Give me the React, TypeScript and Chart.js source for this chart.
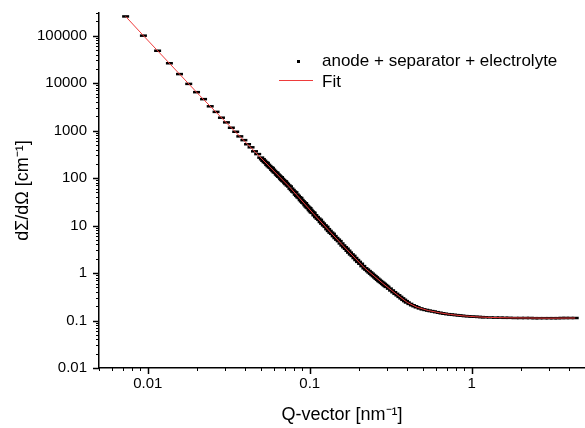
import React, { useEffect, useRef } from 'react';
import { Chart, registerables } from 'chart.js';

Chart.register(...registerables);

// Measured scattering data (Q in nm^-1, intensity in cm^-1)
const qData = [
  0.0073, 0.0094, 0.0115, 0.0136, 0.0157, 0.0179, 0.0200, 0.0221, 0.0243, 0.0264,
  0.0285, 0.0306, 0.0328, 0.0349, 0.0370, 0.0392, 0.0413, 0.0434, 0.0456, 0.0477,
  0.0498, 0.051, 0.052, 0.053, 0.054, 0.055, 0.056, 0.057, 0.058, 0.059,
  0.060, 0.061, 0.062, 0.063, 0.064, 0.065, 0.066, 0.067, 0.068, 0.069,
  0.070, 0.071, 0.072, 0.0735, 0.075, 0.0765, 0.078, 0.0795, 0.081, 0.0825,
  0.084, 0.0855, 0.087, 0.0885, 0.090, 0.0915, 0.093, 0.0945, 0.096, 0.0975,
  0.099, 0.1005, 0.102, 0.1035, 0.105, 0.1075, 0.110, 0.1125, 0.115, 0.1175,
  0.120, 0.123, 0.126, 0.129, 0.132, 0.135, 0.138, 0.1415, 0.145, 0.1485,
  0.152, 0.156, 0.160, 0.164, 0.168, 0.172, 0.176, 0.1805, 0.185, 0.190,
  0.195, 0.200, 0.206, 0.2125, 0.219, 0.2245, 0.23, 0.235, 0.24, 0.245,
  0.25, 0.255, 0.26, 0.265, 0.27, 0.275, 0.28, 0.285, 0.29, 0.295,
  0.30, 0.31, 0.32, 0.33, 0.34, 0.35, 0.36, 0.37, 0.38, 0.39,
  0.40, 0.415, 0.43, 0.445, 0.46, 0.48, 0.50, 0.52, 0.54, 0.56,
  0.58, 0.605, 0.63, 0.655, 0.68, 0.71, 0.74, 0.77, 0.80, 0.835,
  0.87, 0.91, 0.95, 1.0, 1.05, 1.1, 1.15, 1.2, 1.3, 1.4,
  1.5, 1.6, 1.7, 1.85, 2.0, 2.15, 2.3, 2.45, 2.6, 2.8,
  3.0, 3.2, 3.4, 3.6, 3.8, 4.05, 4.35,
];
const iData = [
  254000, 100000, 48100, 26200, 15500, 9640, 6450, 4600, 3250, 2480,
  1870, 1490, 1150, 945, 756, 630, 516, 445, 366, 320,
  270, 250, 232, 217, 208, 190, 179, 169, 163, 150,
  141, 133, 129, 119, 113, 107, 104, 96, 91.4, 87,
  85, 79, 74.9, 70, 66.5, 60, 56, 52, 50, 45,
  42.2, 39.5, 38, 34.5, 32.4, 30.5, 29.5, 27, 25.3, 24,
  23.2, 21.3, 20.1, 19, 18.5, 16.5, 15.1, 14.0, 13.2, 11.9,
  11.0, 10.1, 9.4, 8.4, 7.71, 7.1, 6.7, 6.0, 5.46, 5.05,
  4.7, 4.2, 3.81, 3.5, 3.25, 2.95, 2.70, 2.47, 2.30, 2.07,
  1.88, 1.72, 1.57, 1.40, 1.26, 1.18, 1.10, 1.03, 0.97, 0.91,
  0.86, 0.81, 0.76, 0.72, 0.68, 0.65, 0.62, 0.59, 0.56, 0.535,
  0.51, 0.47, 0.43, 0.395, 0.365, 0.34, 0.315, 0.293, 0.273, 0.256,
  0.240, 0.224, 0.210, 0.200, 0.190, 0.180, 0.172, 0.167, 0.162, 0.158,
  0.155, 0.150, 0.146, 0.142, 0.139, 0.136, 0.134, 0.132, 0.130, 0.128,
  0.126, 0.124, 0.123, 0.121, 0.120, 0.119, 0.118, 0.117, 0.116, 0.115,
  0.115, 0.114, 0.114, 0.113, 0.113, 0.113, 0.113, 0.112, 0.112, 0.112,
  0.112, 0.112, 0.112, 0.113, 0.113, 0.113, 0.113,
];

// Fit curve
const qFit = [
  0.0073, 0.0094, 0.0209, 0.0752, 0.105, 0.13, 0.16, 0.19, 0.219, 0.25,
  0.28, 0.32, 0.36, 0.40, 0.46, 0.54, 0.63, 0.74, 0.87, 1.05,
  1.3, 1.7, 2.3, 3.0, 4.35,
];
const iFit = [
  254000, 100000, 5500, 64.4, 18.0, 8.15, 3.81, 2.07, 1.26, 0.86,
  0.62, 0.43, 0.315, 0.240, 0.190, 0.162, 0.146, 0.134, 0.126, 0.120,
  0.116, 0.114, 0.113, 0.112, 0.113,
];

const xTickValues = [0.01, 0.1, 1];
const xTickLabels = ['0.01', '0.1', '1'];
const yTickValues = [0.01, 0.1, 1, 10, 100, 1000, 10000, 100000];
const yTickLabels = ['0.01', '0.1', '1', '10', '100', '1000', '10000', '100000'];
const seriesLabels = ['anode + separator + electrolyte', 'Fit'];
const xTitle = 'Q-vector [nm⁻¹]';
const yTitle = 'dΣ/dΩ [cm⁻¹]';
const xMin = 0.005;
const xMax = 5;
const yMin = 0.01;
const yMax = 300000;

const FONT = '"Liberation Sans", Arial, Helvetica, sans-serif';
const FIT_COLOR = '#ee3b3b';

const logTicksPlugin = {
  id: 'logTicks',
  afterDraw(chart: any) {
    const ctx = chart.ctx;
    const area = chart.chartArea;
    ctx.save();
    ctx.strokeStyle = '#000';
    const drawAxis = (scale: any, horizontal: boolean) => {
      const min = scale.min;
      const max = scale.max;
      const e0 = Math.floor(Math.log10(min));
      const e1 = Math.ceil(Math.log10(max));
      for (let e = e0; e <= e1; e++) {
        for (let m = 1; m <= 9; m++) {
          const v = m * Math.pow(10, e);
          if (v < min * 0.999 || v > max * 1.001) continue;
          const p = Math.round(scale.getPixelForValue(v)) + 0.5;
          const len = m === 1 ? 6 : 3;
          ctx.lineWidth = m === 1 ? 1.5 : 1;
          ctx.beginPath();
          if (horizontal) {
            ctx.moveTo(p, area.bottom);
            ctx.lineTo(p, area.bottom + len);
          } else {
            ctx.moveTo(area.left, p);
            ctx.lineTo(area.left - len, p);
          }
          ctx.stroke();
        }
      }
    };
    drawAxis(chart.scales.x, true);
    drawAxis(chart.scales.y, false);
    ctx.restore();
  },
};

export default function App() {
  const canvasRef = useRef<HTMLCanvasElement | null>(null);

  useEffect(() => {
    if (!canvasRef.current) return;
    const chart = new Chart(canvasRef.current, {
      type: 'scatter',
      data: {
        datasets: [
          {
            label: seriesLabels[1],
            data: qFit.map((q, i) => ({ x: q, y: iFit[i] })),
            showLine: true,
            borderColor: FIT_COLOR,
            borderWidth: 1,
            pointRadius: 0,
            pointHoverRadius: 0,
            fill: false,
          },
          {
            label: seriesLabels[0],
            data: qData.map((q, i) => ({ x: q, y: iData[i] })),
            showLine: false,
            pointStyle: 'line',
            pointRadius: 3.5,
            pointBorderWidth: 2.5,
            borderColor: '#000',
            backgroundColor: '#000',
          },
        ],
      },
      options: {
        animation: false,
        responsive: true,
        maintainAspectRatio: false,
        layout: { autoPadding: false, padding: { top: 13, right: 0, left: 0, bottom: 0 } },
        plugins: {
          legend: { display: false },
          tooltip: { enabled: false },
        },
        scales: {
          x: {
            type: 'logarithmic',
            position: 'bottom',
            min: xMin,
            max: xMax,
            grid: { display: false, drawTicks: false },
            border: { display: true, color: '#000', width: 1.5 },
            ticks: {
              color: '#000',
              font: { family: FONT, size: 15 },
              padding: 7,
              autoSkip: false,
              maxRotation: 0,
              callback: (_v: any, i: number) => xTickLabels[i],
            },
            title: {
              display: true,
              text: xTitle,
              color: '#000',
              font: { family: FONT, size: 18 },
              padding: { top: 0, bottom: 2 },
            },
            afterBuildTicks: (s: any) => {
              s.ticks = xTickValues.map((v) => ({ value: v }));
            },
            afterFit: (s: any) => {
              s.height = 60;
              s.paddingLeft = 0;
              s.paddingRight = 0;
            },
          },
          y: {
            type: 'logarithmic',
            position: 'left',
            min: yMin,
            max: yMax,
            grid: { display: false, drawTicks: false },
            border: { display: true, color: '#000', width: 1.5 },
            ticks: {
              color: '#000',
              font: { family: FONT, size: 15 },
              padding: 12,
              autoSkip: false,
              callback: (_v: any, i: number) => yTickLabels[i],
            },
            title: {
              display: true,
              text: yTitle,
              color: '#000',
              font: { family: FONT, size: 18 },
              padding: { top: 12, bottom: 0 },
            },
            afterBuildTicks: (s: any) => {
              s.ticks = yTickValues.map((v) => ({ value: v }));
            },
            afterFit: (s: any) => {
              s.width = 99;
              s.paddingTop = 0;
              s.paddingBottom = 0;
            },
          },
        },
      },
      plugins: [logTicksPlugin],
    } as any);
    return () => chart.destroy();
  }, []);

  return (
    <div
      style={{
        position: 'fixed',
        left: 0,
        top: 0,
        width: 585,
        height: 428,
        background: '#fff',
        fontFamily: FONT,
      }}
    >
      <canvas ref={canvasRef} />
      <div
        style={{
          position: 'absolute',
          left: 297,
          top: 60,
          width: 3,
          height: 3,
          background: '#000',
        }}
      />
      <div
        style={{
          position: 'absolute',
          left: 322,
          top: 50,
          fontSize: 17,
          lineHeight: '22px',
          color: '#000',
          whiteSpace: 'nowrap',
        }}
      >
        {seriesLabels[0]}
      </div>
      <div
        style={{
          position: 'absolute',
          left: 279,
          top: 80,
          width: 34,
          height: 0,
          borderTop: `1px solid ${FIT_COLOR}`,
        }}
      />
      <div
        style={{
          position: 'absolute',
          left: 322,
          top: 71,
          fontSize: 17,
          lineHeight: '22px',
          color: '#000',
          whiteSpace: 'nowrap',
        }}
      >
        {seriesLabels[1]}
      </div>
    </div>
  );
}
